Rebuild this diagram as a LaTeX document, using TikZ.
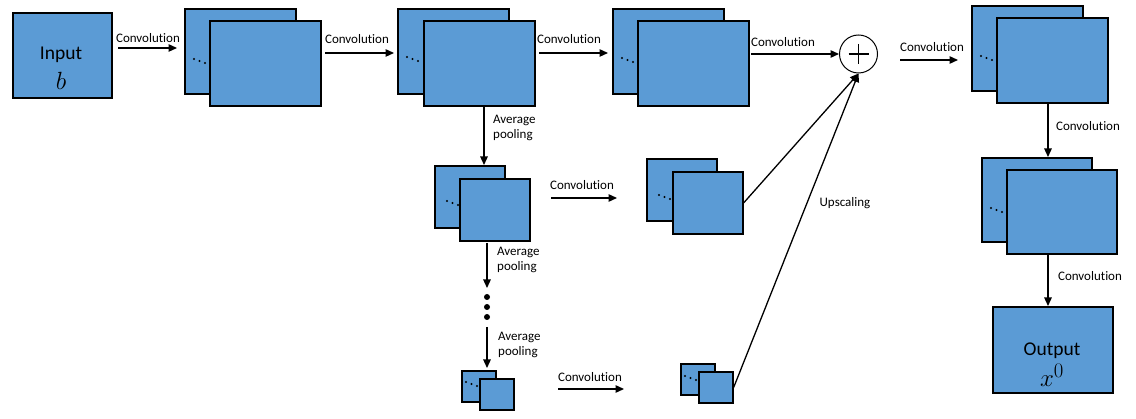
\documentclass[tikz,border=0pt]{standalone}
\usepackage{fontspec}
\setmainfont{Carlito}[Ligatures=NoCommon]
\usetikzlibrary{arrows.meta}
\definecolor{boxblue}{RGB}{91,155,213}
\tikzset{
  fm/.style={draw=black, line width=1.7pt, fill=boxblue, inner sep=0pt, anchor=north west},
  arr/.style={line width=1.3pt, -{Triangle[length=8.5pt,width=7.5pt]}},
  lbl/.style={font=\fontsize{13}{15.5}\selectfont, inner sep=0pt},
  plbl/.style={lbl, align=left, anchor=west},
  big/.style={font=\fontsize{19.5}{22}\selectfont, inner sep=0pt},
}
% name, x, y (back top-left), w, h, dx, dy, dotx, doty
\newcommand\mystack[9]{%
  \node[fm, minimum width=#4pt, minimum height=#5pt] (#1b) at (#2,#3) {};
  \fill (#2+#8,#3+#9) circle (1.1pt) (#2+#8+5.5,#3+#9+2) circle (1.1pt) (#2+#8+11,#3+#9+4) circle (1.1pt);
  \node[fm, minimum width=#4pt, minimum height=#5pt] (#1f) at (#2+#6,#3+#7) {};
}
\begin{document}
\begin{tikzpicture}[x=1pt,y=-1pt]
\useasboundingbox (0,0) rectangle (1136,419);
% input
\node[fm, minimum width=99pt, minimum height=85pt] (in) at (12,12) {};
\node[big] (intxt) at (61,55) {Input};
\node[inner sep=0pt, font=\fontsize{33}{33}\selectfont] (inb) at (61,81) {$b$};
% top row stacks
\mystack{sA}{184}{8}{111}{85}{25}{12}{10}{51}
\mystack{sB}{397}{8}{111}{85}{26}{12}{10}{49}
\mystack{sC}{612}{8}{111}{85}{25}{12}{10}{50}
\mystack{sD}{971}{5}{111}{85}{25}{12}{10}{51}
\mystack{sE}{981}{157}{110}{84}{25}{12}{10}{51}
% output
\node[fm, minimum width=120pt, minimum height=86pt] (out) at (992,306) {};
\node[big] (outtxt) at (1052,351) {Output};
\node[inner sep=0pt, font=\fontsize{28}{28}\selectfont] (outx) at (1052,375) {$x^0$};
% branch stacks
\mystack{pA}{434}{165}{70}{62}{25}{13}{13}{36}
\mystack{pB}{646}{158}{70}{62}{26}{13}{13}{37}
\mystack{pC}{461}{370}{34}{31}{18}{8}{5}{12}
\mystack{pD}{680}{363}{34}{31}{18}{8}{5}{13}
% sum
\node[circle, draw, line width=1pt, minimum size=38pt, inner sep=0pt] (sum) at (858.5,54) {};
\draw[line width=1.2pt] (sum.center) ++(-10,0) -- ++(20,0) (sum.center) ++(0,-10) -- ++(0,20);
% coordinates
\coordinate (a1s) at (118,48); \coordinate (a1e) at (177,48);
\coordinate (a2s) at (325,53); \coordinate (a2e) at (394,53);
\coordinate (a3s) at (539,53); \coordinate (a3e) at (608,53);
\coordinate (a4s) at (751,54);
\coordinate (a5s) at (900,60); \coordinate (a5e) at (958,60);
\coordinate (dx) at (1048,0);
\coordinate (pool1) at (484,0);
\coordinate (b1s) at (551,198); \coordinate (b1e) at (617,198);
\coordinate (b2s) at (558,389); \coordinate (b2e) at (624,389);
\coordinate (q2s) at (487,243); \coordinate (q2e) at (487,288);
\coordinate (q3s) at (487,327); \coordinate (q3e) at (487,368);
% arrows
\draw[arr] (a1s) -- (a1e);
\draw[arr] (a2s) -- (a2e);
\draw[arr] (a3s) -- (a3e);
\draw[arr] (a4s) -- (sum.west);
\draw[arr] (a5s) -- (a5e);
\draw[arr] (dx |- sDf.south) -- (dx |- sEb.north);
\draw[arr] (dx |- sEf.south) -- (dx |- out.north);
\draw[arr] (pool1 |- sBf.south) -- (pool1 |- pAb.north);
\draw[arr] (b1s) -- (b1e);
\draw[arr] (q2s) -- (q2e);
\draw[arr] (q3s) -- (q3e);
\draw[arr] (b2s) -- (b2e);
\draw[arr] (pBf.east) -- (sum.south);
\draw[arr] (pDf.east) -- (sum.south);
% vertical dots
\fill (487,297) circle (3pt) (487,307) circle (3pt) (487,317) circle (3pt);
% labels
\node[lbl] (l1) at (148,38) {Convolution};
\node[lbl] (l2) at (357,39) {Convolution};
\node[lbl] (l3) at (569,39) {Convolution};
\node[lbl] (l4) at (783,42) {Convolution};
\node[lbl] (l5) at (932,47) {Convolution};
\node[lbl] (l6) at (1088,126) {Convolution};
\node[lbl] (l7) at (1090,276) {Convolution};
\node[lbl] (l8) at (582,185) {Convolution};
\node[lbl] (l9) at (590,377) {Convolution};
\node[plbl] (p1) at (493,128) {Average\\pooling};
\node[plbl] (p2) at (497,260) {Average\\pooling};
\node[plbl] (p3) at (498,345) {Average\\pooling};
\node[lbl] (up) at (845,203) {Upscaling};
\end{tikzpicture}
\end{document}
